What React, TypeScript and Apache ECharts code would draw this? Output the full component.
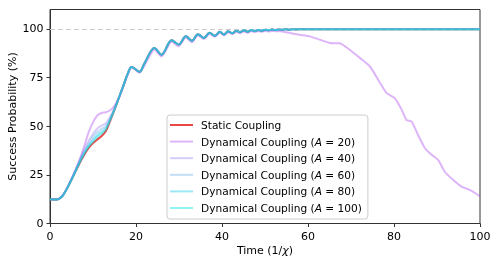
import React, { useEffect, useRef } from "react";
import * as echarts from "echarts";

const time = [0, 1.5, 3, 5, 7, 8, 9, 10, 11, 12, 13, 14, 15, 16, 17, 18, 19, 20.8, 22, 24.3, 25.9, 28.3, 29.9, 31.6, 33, 34.4, 35.8, 37.1, 38.3, 39.5, 40.5, 41.4, 42.4, 43.3, 44.2, 45.1, 46, 46.8, 47.6, 48.4, 49.2, 50.1, 50.9, 51.6, 52.4, 53.2, 54, 54.8, 55.6, 56.4, 57.2, 58, 59, 60, 70, 80, 90, 100];

const staticCoupling = [12.5, 12.4, 14.5, 22.5, 31.5, 35.5, 38.8, 41.3, 43.2, 45, 47.5, 52.8, 58.5, 64.5, 70.5, 76.5, 80.5, 78, 82.5, 90.2, 86.8, 94.2, 92, 96.2, 94, 97.3, 95.4, 98, 96.5, 98.5, 97.2, 98.8, 97.8, 99.1, 98.3, 99.3, 98.6, 99.4, 98.9, 99.5, 99.1, 99.6, 99.3, 99.7, 99.45, 99.75, 99.55, 99.8, 99.65, 99.85, 99.75, 99.9, 99.85, 99.9, 99.9, 99.9, 99.9, 99.9];

const dynA40 = [12.5, 12.4, 14.5, 22.8, 33, 38, 42.5, 46, 48.8, 50.3, 51.5, 55, 59.2, 64.5, 70.5, 76.5, 80.5, 78, 82.5, 90.2, 86.8, 94.2, 92, 96.2, 94, 97.3, 95.4, 98, 96.5, 98.5, 97.2, 98.8, 97.8, 99.1, 98.3, 99.3, 98.6, 99.4, 98.9, 99.5, 99.1, 99.6, 99.3, 99.7, 99.45, 99.75, 99.55, 99.8, 99.65, 99.85, 99.75, 99.9, 99.85, 99.9, 99.9, 99.9, 99.9, 99.9];

const dynA60 = [12.5, 12.4, 14.5, 22.7, 32.5, 37, 41, 44.5, 47, 48.6, 50, 54, 58.8, 64.5, 70.5, 76.5, 80.5, 78, 82.5, 90.2, 86.8, 94.2, 92, 96.2, 94, 97.3, 95.4, 98, 96.5, 98.5, 97.2, 98.8, 97.8, 99.1, 98.3, 99.3, 98.6, 99.4, 98.9, 99.5, 99.1, 99.6, 99.3, 99.7, 99.45, 99.75, 99.55, 99.8, 99.65, 99.85, 99.75, 99.9, 99.85, 99.9, 99.9, 99.9, 99.9, 99.9];

const dynA80 = [12.5, 12.4, 14.5, 22.6, 32, 36.5, 40, 43, 45.5, 47.2, 49, 53.5, 58.6, 64.5, 70.5, 76.5, 80.5, 78, 82.5, 90.2, 86.8, 94.2, 92, 96.2, 94, 97.3, 95.4, 98, 96.5, 98.5, 97.2, 98.8, 97.8, 99.1, 98.3, 99.3, 98.6, 99.4, 98.9, 99.5, 99.1, 99.6, 99.3, 99.7, 99.45, 99.75, 99.55, 99.8, 99.65, 99.85, 99.75, 99.9, 99.85, 99.9, 99.9, 99.9, 99.9, 99.9];

const dynA100 = [12.5, 12.4, 14.5, 22.5, 31.8, 36, 39.5, 42, 44.5, 46.2, 48.3, 53.2, 58.5, 64.5, 70.5, 76.5, 80.5, 78, 82.5, 90.2, 86.8, 94.2, 92, 96.2, 94, 97.3, 95.4, 98, 96.5, 98.5, 97.2, 98.8, 97.8, 99.1, 98.3, 99.3, 98.6, 99.4, 98.9, 99.5, 99.1, 99.6, 99.3, 99.7, 99.45, 99.75, 99.55, 99.8, 99.65, 99.85, 99.75, 99.9, 99.85, 99.9, 99.9, 99.9, 99.9, 99.9];

const timeA20 = [0, 1.5, 3, 5, 7, 8, 9, 10, 11, 12, 13, 14, 15, 16, 17, 18, 19, 20.8, 22, 24.3, 25.9, 28.3, 29.9, 31.6, 33, 34.4, 35.8, 37.1, 38.3, 39.5, 40.5, 41.4, 42.4, 43.3, 44.2, 45.1, 46, 46.8, 47.6, 48.4, 49.2, 50.1, 50.9, 51.6, 52.4, 53.4, 55.8, 58.1, 60.4, 62.7, 65.1, 67.4, 69.7, 72.1, 74.4, 76.7, 78.3, 80.2, 81.8, 82.9, 84.1, 85.6, 87.2, 88.8, 90.3, 91.8, 93.8, 95.7, 97.7, 100];

const dynA20 = [12.5, 12.4, 14.5, 23, 33.5, 40, 47, 52, 55.5, 56.8, 57.2, 58.2, 60.5, 64.5, 70, 76, 80.5, 77.5, 81.5, 89.5, 85.8, 93.5, 91, 95.7, 93.2, 96.8, 94.8, 97.5, 96, 98, 96.8, 98.3, 97.3, 98.6, 97.8, 98.8, 98, 98.9, 98.3, 98.9, 98.5, 99, 98.7, 99, 98.8, 98.8, 97.9, 97, 96.2, 94.5, 92.8, 92.6, 89.3, 85, 80.7, 72.5, 67, 64.4, 58.4, 53.2, 52.4, 45.5, 38.7, 35.2, 32.6, 26.6, 22.3, 18.9, 17.2, 14];

const yTicks = [0, 25, 50, 75, 100];
const refLevel = 100;

const seriesNames = [
  "Static Coupling",
  "Dynamical Coupling (A = 20)",
  "Dynamical Coupling (A = 40)",
  "Dynamical Coupling (A = 60)",
  "Dynamical Coupling (A = 80)",
  "Dynamical Coupling (A = 100)",
];
const seriesColors = [
  "rgba(232,60,60,0.95)",
  "rgba(155,29,235,0.33)",
  "rgba(118,86,229,0.3)",
  "rgba(75,155,235,0.33)",
  "rgba(41,201,235,0.45)",
  "rgba(6,229,229,0.45)",
];

const FONT = "DejaVu Sans";

function pairs(xs: number[], ys: number[]) {
  return xs.map((x, i) => [x, ys[i]]);
}

export default function App() {
  const ref = useRef<HTMLDivElement>(null);
  useEffect(() => {
    if (!ref.current) return;
    const chart = echarts.init(ref.current, null, { renderer: "svg" });
    const datasets = [
      pairs(time, staticCoupling),
      pairs(timeA20, dynA20),
      pairs(time, dynA40),
      pairs(time, dynA60),
      pairs(time, dynA80),
      pairs(time, dynA100),
    ];
    const series: any[] = datasets.map((d, i) => ({
      type: "line",
      name: seriesNames[i],
      data: d,
      showSymbol: false,
      symbol: "none",
      smooth: i === 1 ? 0.2 : 0.35,
      color: seriesColors[i],
      lineStyle: { width: 2, color: seriesColors[i] },
      z: i === 0 ? 2 : 6,
      ...(i === 0
        ? {
            markLine: {
              silent: true,
              symbol: "none",
              label: { show: false },
              lineStyle: { color: "#cccccc", type: [5, 3], width: 1 },
              data: [{ yAxis: refLevel }],
            },
          }
        : {}),
    }));
    chart.setOption({
      animation: false,
      grid: {
        left: 50,
        right: 18,
        top: 9.5,
        bottom: 41.5,
        containLabel: false,
        outerBoundsMode: "none",
        show: true,
        borderColor: "#333",
        borderWidth: 1,
      },
      legend: {
        orient: "vertical",
        left: 167,
        top: 115,
        padding: [4, 6, 5, 3],
        icon: "rect",
        itemWidth: 23,
        itemHeight: 2,
        itemGap: 4.6,
        borderColor: "#cccccc",
        borderWidth: 1,
        borderRadius: 3,
        backgroundColor: "rgba(255,255,255,0.8)",
        data: seriesNames,
        formatter: (name: string) => name.replace("(A = ", "({i|A} = "),
        textStyle: {
          fontFamily: FONT,
          fontSize: 10.6,
          color: "#000",
          lineHeight: 12,
          padding: [0, 0, 0, 3],
          rich: {
            i: { fontFamily: FONT, fontSize: 10.6, fontStyle: "italic", color: "#000" },
          },
        },
      },
      xAxis: {
        type: "value",
        min: 0,
        max: 100,
        interval: 20,
        name: "Time (1/{i|χ})",
        nameLocation: "middle",
        nameGap: 21,
        nameMoveOverlap: false,
        nameTextStyle: {
          fontFamily: FONT,
          fontSize: 11,
          color: "#000",
          verticalAlign: "top",
          rich: { i: { fontFamily: FONT, fontSize: 11, fontStyle: "italic", color: "#000" } },
        },
        axisLine: { show: true, onZero: false, lineStyle: { color: "#333", width: 1 } },
        axisTick: { show: true, inside: false, length: 3.5, lineStyle: { color: "#333" } },
        axisLabel: { margin: 7, fontFamily: FONT, fontSize: 11, color: "#000" },
        splitLine: { show: false },
      },
      yAxis: {
        type: "value",
        min: 0,
        max: 110,
        interval: 25,
        name: "Success Probability (%)",
        nameLocation: "middle",
        nameGap: 32.5,
        nameMoveOverlap: false,
        nameTextStyle: { fontFamily: FONT, fontSize: 11, color: "#000" },
        axisLine: { show: true, onZero: false, lineStyle: { color: "#333", width: 1 } },
        axisTick: {
          show: true,
          inside: false,
          length: 3.5,
          lineStyle: { color: "#333" },
          customValues: yTicks,
        },
        axisLabel: {
          margin: 6.5,
          fontFamily: FONT,
          fontSize: 11,
          color: "#000",
          customValues: yTicks,
        },
        splitLine: { show: false },
      },
      series,
    });
    return () => chart.dispose();
  }, []);
  return (
    <div
      ref={ref}
      style={{ position: "fixed", left: 0, top: 0, width: 498, height: 265 }}
    />
  );
}
